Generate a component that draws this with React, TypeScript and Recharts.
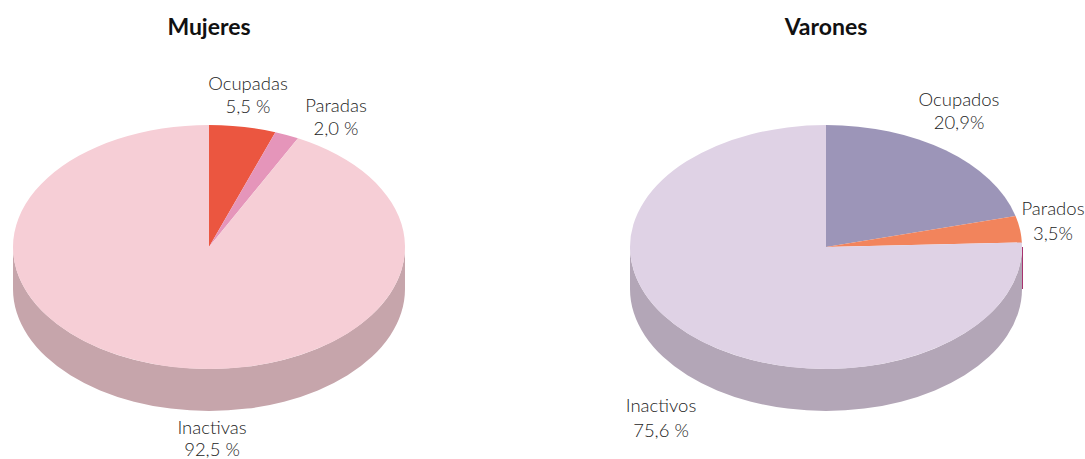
import { Cell, Pie, PieChart } from "recharts";

const mujeresNames = ["Ocupadas", "Paradas", "Inactivas"];
const mujeresValues = [5.5, 2.0, 92.5];
const mujeresPercents = ["5,5 %", "2,0 %", "92,5 %"];

const varonesNames = ["Ocupados", "Parados", "Inactivos"];
const varonesValues = [20.9, 3.5, 75.6];
const varonesPercents = ["20,9%", "3,5%", "75,6 %"];

const MUJERES_COLORS = ["#eb5640", "#e595ba", "#f6ced6"];
const VARONES_COLORS = ["#9c95b8", "#f2845c", "#dfd2e5"];
const MUJERES_SIDE = "#c6a5ab";
const VARONES_SIDE = "#b3a6b7";
const RIM_COLOR = "#a8336e";

const FONT = "Lato, sans-serif";
const RX = 196;
const RY = 122;
const DEPTH = 42;
const CY = 247;
const MUJERES_CX = 209;
const VARONES_CX = 826;

// [centre x, first baseline, second baseline] for each slice label
const mujeresLabelPos = [
  [248, 90, 113],
  [336, 112, 135],
  [212, 434, 456],
];
const varonesLabelPos = [
  [959, 106, 129],
  [1053, 215, 240],
  [661, 412, 437],
];

const buildRows = (names: string[], values: number[]) =>
  names.map((name, i) => ({ name, value: values[i] }));

const pt = (cx: number, cy: number, deg: number) => {
  const a = (deg * Math.PI) / 180;
  return [cx + RX * Math.cos(a), cy - RY * Math.sin(a)];
};

// Recharts gives the angles, we squash the circle to the tilted ellipse
function TopSlice(props: any) {
  const { cx, cy, startAngle, endAngle, fill } = props;
  const [x0, y0] = pt(cx, cy, startAngle);
  const [x1, y1] = pt(cx, cy, endAngle);
  const large = Math.abs(startAngle - endAngle) > 180 ? 1 : 0;
  return (
    <path
      d={`M${cx},${cy}L${x0},${y0}A${RX},${RY} 0 ${large} 1 ${x1},${y1}Z`}
      fill={fill}
      stroke="none"
    />
  );
}

function SideSlice(props: any) {
  const { cx, cy, startAngle, endAngle, fill, name } = props;
  const hi = Math.min(startAngle, 0);
  const lo = Math.max(endAngle, -180);
  if (name === "Parados") {
    const x = cx + RX + 0.5;
    return <line x1={x} y1={cy} x2={x} y2={cy + DEPTH} stroke={RIM_COLOR} strokeWidth={1} />;
  }
  if (hi <= lo) return <g />;
  const [x0, y0] = pt(cx, cy, hi);
  const [x1, y1] = pt(cx, cy, lo);
  return (
    <path
      d={`M${x0},${y0}A${RX},${RY} 0 0 1 ${x1},${y1}L${x1},${y1 + DEPTH}A${RX},${RY} 0 0 0 ${x0},${y0 + DEPTH}Z`}
      fill={fill}
      stroke="none"
    />
  );
}

const sliceLabel = (pos: number[][], percents: string[]) => (props: any) => {
  const { index, name } = props;
  const [x, y1, y2] = pos[index];
  return (
    <text textAnchor="middle" fontFamily={FONT} fontWeight={300} fontSize={18.5} fill="#1c1c1c">
      <tspan x={x} y={y1}>{name}</tspan>
      <tspan x={x} y={y2}>{percents[index]}</tspan>
    </text>
  );
};

const mujeresRows = buildRows(mujeresNames, mujeresValues);
const varonesRows = buildRows(varonesNames, varonesValues);

const Title = ({ x, children }: { x: number; children: string }) => (
  <div
    style={{
      position: "absolute",
      left: x - 100,
      top: 12,
      width: 200,
      textAlign: "center",
      fontFamily: FONT,
      fontWeight: 700,
      fontSize: 23,
      lineHeight: "28px",
      color: "#111",
    }}
  >
    {children}
  </div>
);

export default function App() {
  return (
    <div style={{ position: "absolute", left: 0, top: 0, width: 1085, height: 459, background: "#fff" }}>
      <PieChart width={1085} height={459} margin={{ top: 0, right: 0, bottom: 0, left: 0 }}>
        <Pie
          data={mujeresRows}
          dataKey="value"
          nameKey="name"
          cx={MUJERES_CX}
          cy={CY}
          outerRadius={RX}
          startAngle={90}
          endAngle={-270}
          shape={SideSlice}
          stroke="none"
          isAnimationActive={false}
        >
          {mujeresRows.map((r) => <Cell key={r.name} fill={MUJERES_SIDE} />)}
        </Pie>
        <Pie
          data={varonesRows}
          dataKey="value"
          nameKey="name"
          cx={VARONES_CX}
          cy={CY}
          outerRadius={RX}
          startAngle={90}
          endAngle={-270}
          shape={SideSlice}
          stroke="none"
          isAnimationActive={false}
        >
          {varonesRows.map((r) => <Cell key={r.name} fill={VARONES_SIDE} />)}
        </Pie>
        <Pie
          data={mujeresRows}
          dataKey="value"
          nameKey="name"
          cx={MUJERES_CX}
          cy={CY}
          outerRadius={RX}
          startAngle={90}
          endAngle={-270}
          shape={TopSlice}
          stroke="none"
          label={sliceLabel(mujeresLabelPos, mujeresPercents)}
          labelLine={false}
          isAnimationActive={false}
        >
          {mujeresRows.map((r, i) => <Cell key={r.name} fill={MUJERES_COLORS[i]} />)}
        </Pie>
        <Pie
          data={varonesRows}
          dataKey="value"
          nameKey="name"
          cx={VARONES_CX}
          cy={CY}
          outerRadius={RX}
          startAngle={90}
          endAngle={-270}
          shape={TopSlice}
          stroke="none"
          label={sliceLabel(varonesLabelPos, varonesPercents)}
          labelLine={false}
          isAnimationActive={false}
        >
          {varonesRows.map((r, i) => <Cell key={r.name} fill={VARONES_COLORS[i]} />)}
        </Pie>
      </PieChart>
      <Title x={MUJERES_CX}>Mujeres</Title>
      <Title x={VARONES_CX}>Varones</Title>
    </div>
  );
}
